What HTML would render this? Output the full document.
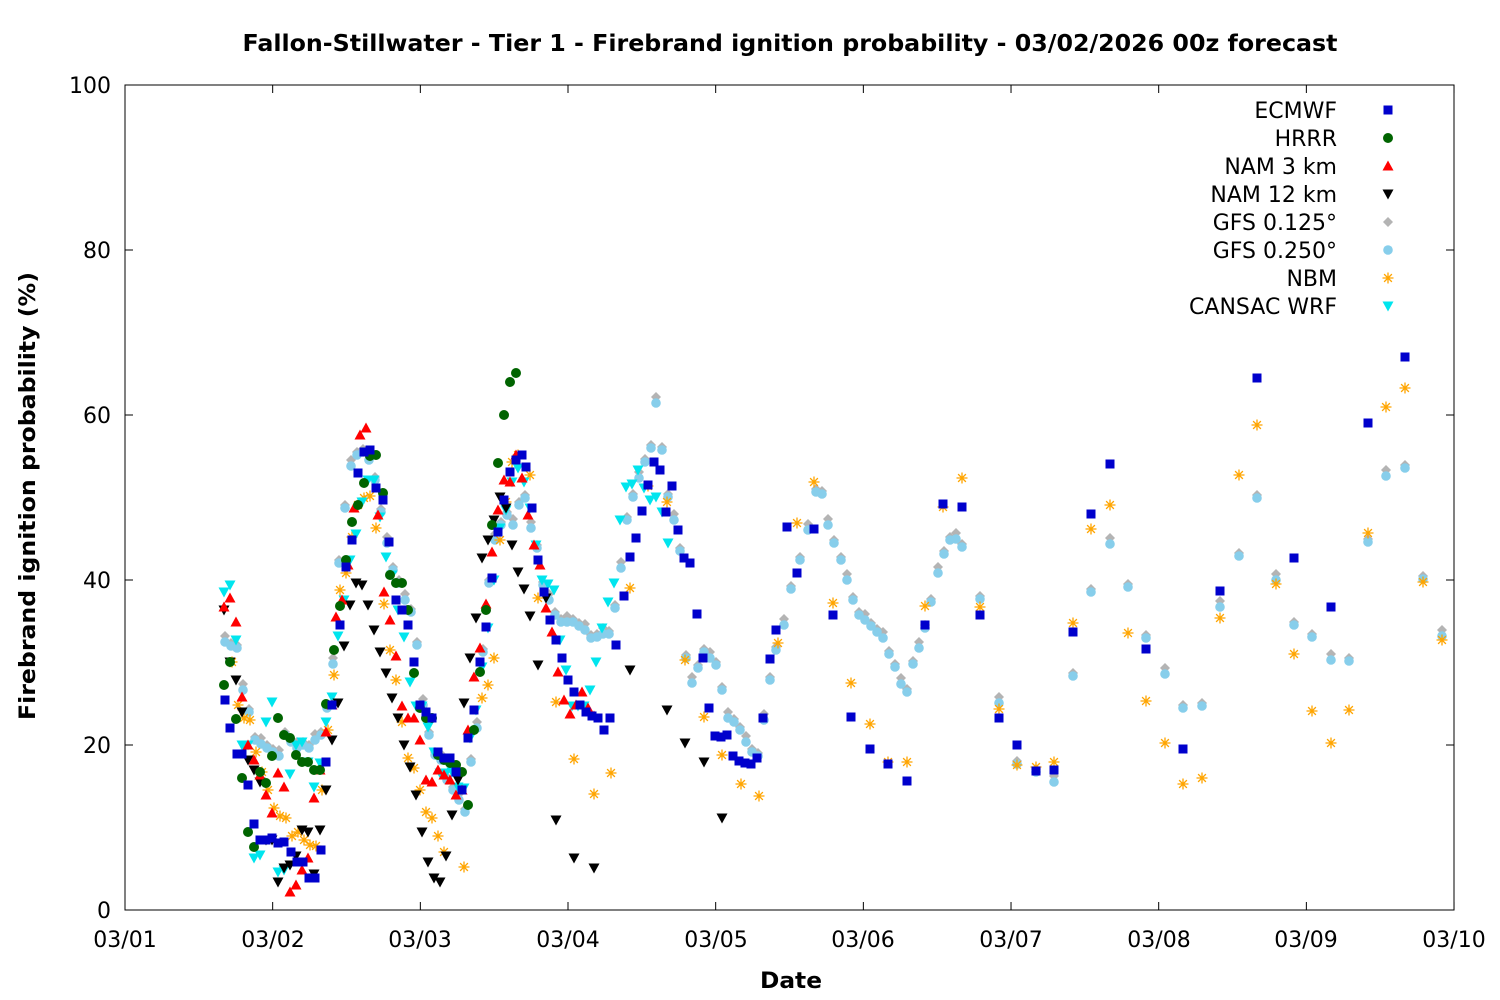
<!DOCTYPE html>
<html><head><meta charset="utf-8"><style>
body{margin:0;background:#fff}
svg{display:block;font-family:"DejaVu Sans","Liberation Sans",sans-serif}
</style></head><body>
<svg id="s" width="1500" height="1000" xmlns="http://www.w3.org/2000/svg">
<rect width="1500" height="1000" fill="#fff"/>
<text x="790" y="51" text-anchor="middle" font-size="23" font-weight="bold" textLength="1095" lengthAdjust="spacingAndGlyphs">Fallon-Stillwater - Tier 1 - Firebrand ignition probability - 03/02/2026 00z forecast</text>
<rect x="125" y="85" width="1329" height="825" fill="none" stroke="#000" stroke-width="1"/>
<g id="ticks" stroke="#000" stroke-width="1"></g>
<g font-size="22" text-anchor="end">
<text x="111" y="918">0</text><text x="111" y="753">20</text><text x="111" y="588">40</text><text x="111" y="423">60</text><text x="111" y="258">80</text><text x="111" y="93">100</text>
</g>
<g font-size="22" text-anchor="middle">
<text x="125" y="947">03/01</text><text x="273" y="947">03/02</text><text x="420" y="947">03/03</text><text x="568" y="947">03/04</text><text x="716" y="947">03/05</text><text x="863" y="947">03/06</text><text x="1011" y="947">03/07</text><text x="1159" y="947">03/08</text><text x="1306" y="947">03/09</text><text x="1454" y="947">03/10</text>
</g>
<text x="791" y="988" text-anchor="middle" font-size="22" font-weight="bold" textLength="62" lengthAdjust="spacingAndGlyphs">Date</text>
<text transform="translate(35,496) rotate(-90)" text-anchor="middle" font-size="22" font-weight="bold" textLength="448" lengthAdjust="spacingAndGlyphs">Firebrand ignition probability (%)</text>
<g font-size="22" text-anchor="end">
<text x="1337" y="118">ECMWF</text><text x="1337" y="146">HRRR</text><text x="1337" y="174">NAM 3 km</text><text x="1337" y="202">NAM 12 km</text><text x="1337" y="230">GFS 0.125°</text><text x="1337" y="258">GFS 0.250°</text><text x="1337" y="286">NBM</text><text x="1337" y="314">CANSAC WRF</text>
</g>
<g id="pts"></g>
</svg>
<script>
var NS="http://www.w3.org/2000/svg",g=document.getElementById("pts"),tk=document.getElementById("ticks");
function el(n,a,p){var e=document.createElementNS(NS,n);for(var k in a)e.setAttribute(k,a[k]);(p||g).appendChild(e);return e;}
for(var i=0;i<=9;i++){var x=125+i*147.67;el("line",{x1:x,y1:910,x2:x,y2:902},tk);el("line",{x1:x,y1:85,x2:x,y2:93},tk);}
for(var v=0;v<=100;v+=20){var y=910-v*8.25;el("line",{x1:125,y1:y,x2:133,y2:y},tk);el("line",{x1:1454,y1:y,x2:1446,y2:y},tk);}
function sq(x,y,c){el("rect",{x:x-4.5,y:y-4.5,width:9,height:9,fill:c});}
function ci(x,y,c){el("circle",{cx:x,cy:y,r:5,fill:c});}
function tu(x,y,c){el("polygon",{points:(x-5.5)+","+(y+4.5)+" "+(x+5.5)+","+(y+4.5)+" "+x+","+(y-5.5),fill:c});}
function td(x,y,c){el("polygon",{points:(x-5.5)+","+(y-4.5)+" "+(x+5.5)+","+(y-4.5)+" "+x+","+(y+5.5),fill:c});}
function di(x,y,c){el("polygon",{points:(x-5)+","+y+" "+x+","+(y-5)+" "+(x+5)+","+y+" "+x+","+(y+5),fill:c});}
function hx(x,y,c){el("circle",{cx:x,cy:y,r:4.8,fill:c});}
function st(x,y,c){var s="";for(var a=0;a<4;a++){var t=a*Math.PI/4;s+="M"+(x-5.5*Math.cos(t))+","+(y-5.5*Math.sin(t))+"L"+(x+5.5*Math.cos(t))+","+(y+5.5*Math.sin(t));}el("path",{d:s,stroke:c,"stroke-width":1.3,fill:"none"});}
function P(s){return s.split("),(").map(function(p){p=p.replace(/[()]/g,"").split(",");return [+p[0],+p[1]];});}
var gfs25=P("(225,642),(231,646),(237,648),(243,690),(249,712),(255,740),(261,744),(267,748),(273,752),(279,756),(285,735),(291,742),(297,748),(303,745),(309,748),(315,740),(321,735),(327,708),(333,664),(339,563),(345,508),(351,466),(357,455),(363,452),(369,460),(375,480),(381,512),(387,543),(393,570),(399,583),(405,600),(411,612),(417,645),(423,705),(429,735),(435,755),(441,760),(447,780),(453,790),(459,800),(465,812),(471,762),(477,728),(483,652),(489,583),(495,540),(501,525),(507,515),(513,525),(519,505),(525,498),(531,528),(537,548),(543,585),(549,600),(555,615),(561,622),(567,622),(573,622),(579,626),(585,630),(591,638),(597,637),(603,634),(609,634),(615,608),(621,568),(627,520),(633,497),(639,478),(645,462),(651,448),(656,403),(662,450),(668,497),(674,520),(680,551),(686,658),(692,683),(698,668),(704,652),(710,658),(716,665),(722,690),(728,718),(734,722),(740,730),(746,742),(752,752),(758,756),(764,720),(770,680),(776,650),(784,625),(791,589),(800,560),(808,530),(816,492),(822,494),(828,525),(834,543),(841,560),(847,580),(853,600),(859,615),(865,620),(871,626),(877,632),(883,638),(889,654),(895,667),(901,684),(907,692),(913,664),(919,648),(925,628),(931,602),(938,573),(944,554),(950,540),(956,539),(962,547),(980,599),(999,703),(1017,764),(1036,772),(1054,782),(1073,676),(1091,592),(1110,544),(1128,587),(1146,638),(1165,674),(1183,708),(1202,706),(1220,607),(1239,556),(1257,498),(1276,580),(1294,625),(1312,637),(1331,660),(1349,661),(1368,542),(1386,476),(1405,468),(1423,579),(1442,636)");
gfs25.forEach(function(p,i){di(p[0],p[1]-(i%3==0?6:3),"#b4b4b4");});
gfs25.forEach(function(p){hx(p[0],p[1],"#87ceeb");});
P("(232,662),(238,705),(244,718),(250,720),(256,752),(262,772),(268,790),(274,808),(280,816),(286,818),(292,836),(298,832),(304,840),(310,845),(316,846),(322,790),(328,730),(334,675),(340,590),(346,573),(352,537),(358,505),(364,498),(370,496),(376,528),(384,604),(390,650),(396,680),(402,722),(408,758),(414,768),(420,790),(426,812),(432,818),(438,836),(444,852),(464,867),(482,698),(488,685),(494,658),(500,540),(506,502),(512,462),(518,455),(530,475),(538,598),(556,702),(574,759),(594,794),(611,773),(630,588),(648,486),(667,502),(685,660),(704,717),(722,755),(741,784),(759,796),(778,643),(797,523),(814,482),(833,603),(851,683),(870,724),(888,762),(907,762),(925,606),(943,507),(962,478),(980,607),(999,709),(1017,765),(1036,767),(1054,762),(1073,623),(1091,529),(1110,505),(1128,633),(1146,701),(1165,743),(1183,784),(1202,778),(1220,618),(1239,475),(1257,425),(1276,584),(1294,654),(1312,711),(1331,743),(1349,710),(1368,533),(1386,407),(1405,388),(1423,582),(1442,640)").forEach(function(p){st(p[0],p[1],"#ffa500");});
P("(224,592),(230,585),(236,640),(242,745),(248,745),(254,858),(260,855),(266,722),(272,702),(278,872),(284,870),(290,774),(296,745),(302,742),(308,762),(314,787),(320,763),(326,722),(332,697),(338,636),(344,600),(350,560),(356,534),(362,502),(368,480),(374,480),(380,517),(386,557),(392,575),(398,610),(404,637),(410,682),(416,706),(422,706),(428,727),(434,752),(440,773),(446,773),(452,772),(458,787),(464,788),(470,738),(476,710),(482,667),(488,628),(494,580),(500,528),(506,510),(512,482),(518,468),(524,482),(530,508),(536,545),(542,580),(548,584),(554,590),(560,640),(566,670),(572,706),(578,706),(584,706),(590,690),(596,662),(602,628),(608,602),(614,583),(620,520),(626,487),(632,484),(638,470),(644,488),(650,500),(656,497),(662,512),(668,543)").forEach(function(p){td(p[0],p[1],"#00e5ee");});
P("(224,610),(230,662),(236,680),(242,712),(248,760),(254,770),(260,782),(266,840),(272,840),(278,882),(284,868),(290,865),(296,856),(302,830),(308,832),(314,874),(320,830),(326,790),(332,740),(338,703),(344,646),(350,605),(356,583),(362,585),(368,605),(374,630),(380,652),(386,673),(392,698),(398,718),(404,745),(410,767),(416,795),(422,832),(428,862),(434,878),(440,882),(446,856),(452,815),(458,780),(464,703),(470,658),(476,618),(482,558),(488,540),(494,520),(500,497),(506,508),(512,545),(518,572),(524,589),(530,616),(538,665),(546,598),(556,820),(574,858),(594,868),(630,670),(667,710),(685,743),(704,762),(722,818)").forEach(function(p){td(p[0],p[1],"#000");});
P("(224,607),(230,598),(236,622),(242,697),(248,745),(254,760),(260,775),(266,795),(272,813),(278,773),(284,787),(290,892),(296,885),(302,870),(308,858),(314,798),(320,770),(326,732),(332,705),(336,617),(342,600),(348,565),(354,508),(360,435),(366,428),(372,453),(378,515),(384,592),(390,620),(396,656),(402,706),(408,718),(414,718),(420,740),(426,780),(432,782),(438,770),(444,775),(450,780),(456,795),(462,790),(468,730),(474,677),(480,648),(486,604),(492,552),(498,510),(504,480),(510,482),(516,455),(522,478),(528,515),(534,545),(540,565),(546,608),(552,632),(558,672),(564,700),(570,714),(576,705),(582,692),(588,708),(594,716)").forEach(function(p){tu(p[0],p[1],"#f00");});
P("(224,685),(230,662),(236,719),(242,778),(248,832),(254,847),(260,772),(266,783),(272,756),(278,718),(284,735),(290,738),(296,755),(302,762),(308,762),(314,770),(320,770),(326,704),(334,650),(340,606),(346,560),(352,522),(358,505),(364,483),(370,456),(376,455),(383,493),(390,575),(396,583),(402,583),(408,610),(414,673),(420,708),(426,718),(432,718),(438,755),(444,760),(450,763),(456,765),(462,772),(468,805),(474,730),(480,672),(486,610),(492,525),(498,463),(504,415),(510,382),(516,373)").forEach(function(p){ci(p[0],p[1],"#006400");});
P("(225,700),(230,728),(237,754),(242,754),(248,785),(254,824),(260,840),(266,840),(272,838),(278,843),(284,842),(291,852),(297,862),(303,862),(309,878),(315,878),(321,850),(326,762),(332,705),(340,625),(346,567),(352,540),(358,473),(364,452),(370,450),(376,488),(383,500),(389,542),(396,600),(402,610),(408,625),(414,662),(420,705),(426,712),(432,718),(438,752),(444,758),(450,758),(456,772),(462,790),(468,738),(474,710),(480,662),(486,627),(492,578),(498,532),(504,500),(510,472),(516,460),(522,455),(526,467),(532,508),(538,560),(544,592),(550,620),(556,640),(562,658),(568,680),(574,692),(580,705),(586,712),(592,716),(598,718),(604,730),(610,718),(616,645),(624,596),(630,557),(636,538),(642,511),(648,485),(654,462),(660,470),(666,512),(672,486),(678,530),(684,558),(690,563),(697,614),(703,658),(709,708),(715,736),(721,737),(727,735),(733,756),(739,761),(745,763),(751,764),(757,758),(763,718),(770,659),(776,630),(787,527),(797,573),(814,529),(833,615),(851,717),(870,749),(888,764),(907,781),(925,625),(943,504),(962,507),(980,615),(999,718),(1017,745),(1036,771),(1054,770),(1073,632),(1091,514),(1110,464),(1146,649),(1183,749),(1220,591),(1257,378),(1294,558),(1331,607),(1368,423),(1405,357)").forEach(function(p){sq(p[0],p[1],"#0000cc");});
sq(1388,110,"#0000cc");ci(1388,138,"#006400");tu(1388,166,"#f00");td(1388,194,"#000");di(1388,222,"#b4b4b4");hx(1388,250,"#87ceeb");st(1388,278,"#ffa500");td(1388,306,"#00e5ee");
</script>
</body></html>
